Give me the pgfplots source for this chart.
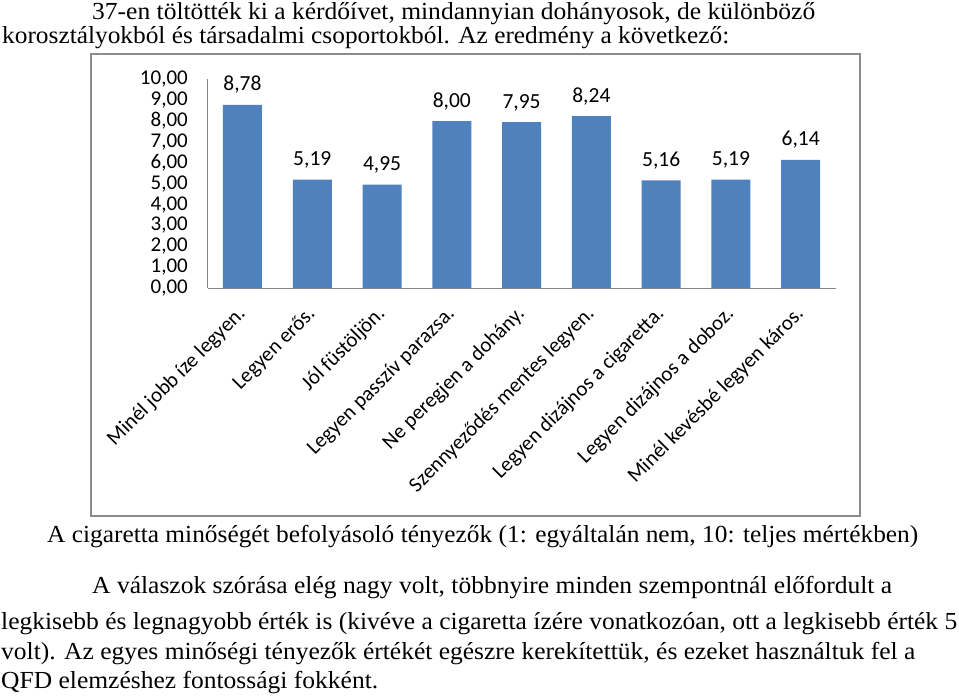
\documentclass[border=0pt]{standalone}
\usepackage{pgfplots}
\pgfplotsset{compat=1.18}
\usepackage{fontspec}
\setmainfont{Liberation Serif}
\newfontfamily\calibri{Carlito}
\usepackage{graphicx}
\definecolor{barblue}{HTML}{4F81BD}
\definecolor{axgray}{HTML}{868686}
\definecolor{framegray}{HTML}{8C8C8C}
\newcommand\tline[4]{\node[anchor=base west, inner sep=0pt] at (#1pt,#2pt) {\resizebox{#3pt}{\height}{\fontsize{24.5}{24.5}\selectfont #4}};}
\begin{document}
\begin{tikzpicture}
\path[use as bounding box] (0,0) rectangle (959pt,697pt);
\fill[white] (0,0) rectangle (959pt,697pt);
\tline{92}{677}{723}{37-en töltötték ki a kérdőívet, mindannyian dohányosok, de különböző}
\tline{2}{653}{727}{korosztályokból és társadalmi csoportokból. Az eredmény a következő:}
\draw[framegray, line width=1.5pt] (91pt,181pt) rectangle (860pt,643pt);
\tline{47}{155}{871}{A cigaretta minőségét befolyásoló tényezők (1: egyáltalán nem, 10: teljes mértékben)}
\tline{92}{104}{800}{A válaszok szórása elég nagy volt, többnyire minden szempontnál előfordult a}
\tline{1}{68}{956}{legkisebb és legnagyobb érték is (kivéve a cigaretta ízére vonatkozóan, ott a legkisebb érték 5}
\tline{1}{38}{914}{volt). Az egyes minőségi tényezők értékét egészre kerekítettük, és ezeket használtuk fel a}
\tline{1}{9}{377}{QFD elemzéshez fontossági fokként.}
\begin{axis}[
  at={(207.6pt,409pt)}, anchor=south west, scale only axis,
  width=628pt, height=208.6pt,
  xmin=-0.5, xmax=8.5, ymin=0, ymax=10,
  axis x line=bottom, axis y line=left,
  axis line style={draw=axgray, line width=1pt, -},
  major tick length=0pt,
  ytick={0,1,...,10},
  xtick={0,1,...,8},
  xticklabels={Minél jobb íze legyen., Legyen erős., Jól füstöljön., Legyen passzív parazsa., Ne peregjen a dohány., Szennyeződés mentes legyen., Legyen dizájnos a cigaretta., Legyen dizájnos a doboz., Minél kevésbé legyen káros.},
  xticklabel style={font=\calibri\fontsize{21}{21}\selectfont, rotate=45, anchor=east, inner sep=0pt},
  xticklabel shift=23pt,
  yticklabel style={font=\calibri\fontsize{21}{21}\selectfont, anchor=east, inner sep=0pt},
  yticklabel shift=19.6pt,
  /pgf/number format/.cd, fixed, fixed zerofill, precision=2, use comma, assume math mode=true,
  /pgfplots/.cd,
  clip=false,
  ybar, bar width=39pt,
  nodes near coords,
  every node near coord/.append style={font=\calibri\fontsize{21.5}{21.5}\selectfont, anchor=base, inner sep=0pt, yshift=14pt},
]
\addplot[fill=barblue, draw=none] coordinates {(0,8.78) (1,5.19) (2,4.95) (3,8.00) (4,7.95) (5,8.24) (6,5.16) (7,5.19) (8,6.14)};
\end{axis}
\end{tikzpicture}
\end{document}
